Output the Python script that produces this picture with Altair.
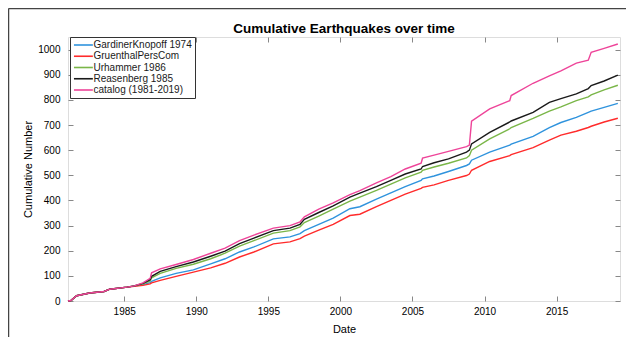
import altair as alt
import pandas as pd

# decimal years
years = [1981.1, 1981.3, 1981.7, 1982.6, 1983.6, 1984.0, 1985.2, 1985.7, 1986.3, 1986.8,
         1986.9, 1987.5, 1988.6, 1989.8, 1991.0, 1992.0, 1993.0, 1994.0, 1995.35, 1996.5,
         1997.2, 1997.5, 1998.5, 1999.5, 2000.66, 2001.35, 2002.5, 2003.5, 2004.5, 2005.6,
         2005.7, 2006.5, 2007.5, 2008.75, 2008.95, 2009.1, 2010.36, 2011.75, 2011.85, 2013.37,
         2014.5, 2015.3, 2016.37, 2017.2, 2017.4, 2018.3, 2019.25]

gardiner = [0, 2, 21, 32, 38, 47, 55, 59, 65, 73,
            78, 92, 110, 124, 148, 168, 195, 215, 247, 255,
            268, 280, 305, 330, 367, 375, 405, 430, 455, 480,
            486, 497, 515, 539, 545, 560, 592, 620, 624, 655,
            690, 710, 730, 750, 755, 770, 786]

gruenthal = [0, 2, 21, 32, 38, 47, 55, 58, 62, 68,
             72, 82, 98, 115, 132, 150, 175, 195, 227, 235,
             248, 258, 282, 305, 340, 345, 375, 400, 425, 448,
             452, 462, 480, 499, 505, 520, 555, 578, 582, 610,
             640, 660, 675, 690, 695, 712, 727]

urhammer = [0, 2, 21, 32, 38, 47, 55, 60, 68, 80,
            92, 110, 130, 146, 168, 190, 218, 240, 270, 280,
            295, 312, 338, 365, 397, 413, 440, 465, 490, 512,
            520, 533, 548, 569, 578, 600, 645, 685, 690, 726,
            755, 772, 797, 812, 820, 840, 858]

reasenberg = [0, 2, 21, 32, 38, 47, 55, 60, 70, 85,
              98, 118, 137, 155, 178, 198, 228, 250, 280, 290,
              305, 325, 352, 378, 413, 429, 455, 480, 505, 525,
              535, 550, 565, 592, 600, 625, 671, 712, 716, 750,
              790, 805, 824, 845, 857, 875, 898]

catalog = [0, 2, 21, 32, 38, 47, 55, 60, 72, 90,
           112, 128, 145, 165, 190, 210, 240, 262, 290, 300,
           315, 335, 365, 390, 423, 439, 470, 495, 525, 548,
           568, 580, 595, 614, 620, 715, 764, 797, 817, 866,
           895, 915, 946, 958, 989, 1005, 1022]

names = ["GardinerKnopoff 1974", "GruenthalPersCom", "Urhammer 1986",
         "Reasenberg 1985", "catalog (1981-2019)"]
colors = ["#2f93dd", "#ff2b2b", "#7ab648", "#1a1a1a", "#ee4499"]
x_ticks = [1985, 1990, 1995, 2000, 2005, 2010, 2015]
y_ticks = [0, 100, 200, 300, 400, 500, 600, 700, 800, 900, 1000]
title_text = ["Cumulative Earthquakes over time"]

series = [gardiner, gruenthal, urhammer, reasenberg, catalog]
rows = []
for k, (nm, vals) in enumerate(zip(names, series)):
    for yr, v in zip(years, vals):
        rows.append({"year": yr, "count": v, "series": nm, "k": k})
df = pd.DataFrame(rows)

W, H = 552, 264
FONT = "Liberation Sans"
GRAY = "#6e6e6e"

xscale = alt.Scale(domain=[1981.1, 2019.4], nice=False, zero=False)
yscale = alt.Scale(domain=[0, 1050], nice=False)

lines = alt.Chart(df).mark_line(strokeWidth=1.4).encode(
    x=alt.X("year:Q", scale=xscale,
            axis=alt.Axis(orient="bottom", values=x_ticks, format="d", title="Date",
                          offset=-5, tickSize=5, domain=False, grid=False,
                          labelPadding=5, titlePadding=7, titleFontWeight="normal")),
    y=alt.Y("count:Q", scale=yscale,
            axis=alt.Axis(orient="left", values=y_ticks, format="d",
                          title="Cumulative Number", offset=-5, tickSize=5,
                          domain=False, grid=False, labelPadding=8, titlePadding=4,
                          titleFontWeight="normal")),
    color=alt.Color("series:N", sort=names,
                    scale=alt.Scale(domain=names, range=colors),
                    legend=alt.Legend(title=None, orient="none", legendX=2, legendY=0,
                                      symbolType="M-0.9,0H3.3", symbolSize=81,
                                      symbolStrokeWidth=1.6, labelFontSize=10,
                                      labelFont=FONT, labelColor="#1a1a1a",
                                      labelLimit=300, rowPadding=0.25, labelOffset=10,
                                      padding=2.5, strokeColor="#333333",
                                      fillColor="white")),
    order=alt.Order("k:Q"),
)

mirror = alt.Chart(df).mark_line(opacity=0).encode(
    x=alt.X("year:Q", scale=xscale,
            axis=alt.Axis(orient="top", values=x_ticks, labels=False, title=None,
                          offset=-5, tickSize=5, domain=False, grid=False)),
    y=alt.Y("count:Q", scale=yscale,
            axis=alt.Axis(orient="right", values=y_ticks, labels=False, title=None,
                          offset=-5, tickSize=5, domain=False, grid=False)),
    detail="series:N",
)

one = alt.Data(values=[{"t": title_text[0]}])
title = alt.Chart(one).mark_text(font=FONT, fontSize=13.5, fontWeight="bold",
                                 color="black", baseline="alphabetic", align="center").encode(
    text="t:N", x=alt.value(W / 2), y=alt.value(-4))

frame_left = alt.Chart(one).mark_rule(color="#444444", strokeWidth=1.5).encode(
    x=alt.value(-59.5), y=alt.value(-28.5), y2=alt.value(H + 40))
frame_top = alt.Chart(one).mark_rule(color="#444444", strokeWidth=1.5).encode(
    x=alt.value(-59.5), x2=alt.value(W + 10), y=alt.value(-28.5))

chart = alt.layer(lines, mirror, title, frame_left, frame_top).resolve_axis(
    x="independent", y="independent"
).properties(
    width=W, height=H,
    autosize=alt.AutoSizeParams(type="none"),
    padding={"left": 60, "top": 29, "right": 6, "bottom": 36},
).configure_view(
    stroke=GRAY, strokeWidth=1
).configure_axis(
    labelFont=FONT, titleFont=FONT, labelFontSize=11, titleFontSize=14,
    labelColor="#262626", titleColor="#262626", tickColor=GRAY
).configure(background="white")

chart.save("out.html", embed_options={"renderer": "svg", "actions": False})
